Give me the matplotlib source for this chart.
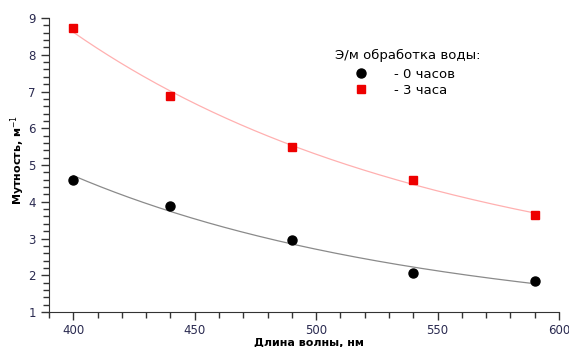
import numpy as np
import matplotlib.pyplot as plt
from matplotlib.ticker import MultipleLocator

# data
wavelength = [400, 440, 490, 540, 590]
turb_0h = [4.58, 3.88, 2.96, 2.05, 1.83]
turb_3h = [8.72, 6.88, 5.49, 4.59, 3.65]
labels = ['- 0 часов', '- 3 часа']
legend_title = 'Э/м обработка воды:'

plt.rcParams['font.family'] = ['DejaVu Sans']

fig = plt.figure(figsize=(5.69, 3.47), dpi=100)
ax = fig.add_axes([0.0861, 0.1009, 0.8963, 0.8471])

# smooth trend lines (exponential fit to each series)
xs = np.linspace(wavelength[0], wavelength[-1], 200)
x = np.array(wavelength, dtype=float)
for ys, col in [(turb_0h, '#8a8a8a'), (turb_3h, '#ffb0b0')]:
    p = np.polyfit(x, np.log(ys), 2)
    ax.plot(xs, np.exp(np.polyval(p, xs)), color=col, lw=0.9, zorder=1)

h0, = ax.plot(wavelength, turb_0h, 'o', color='black', ms=6.5, label=labels[0], zorder=3)
h3, = ax.plot(wavelength, turb_3h, 's', color='#ee0000', ms=6.2, label=labels[1], zorder=3)

ax.set_xlim(390, 600)
ax.set_ylim(1, 9)
ax.xaxis.set_major_locator(MultipleLocator(50))
ax.xaxis.set_minor_locator(MultipleLocator(10))
ax.yaxis.set_major_locator(MultipleLocator(1))
ax.yaxis.set_minor_locator(MultipleLocator(0.2))
ax.tick_params(which='major', length=6, width=1, labelsize=8.5, colors='#333333', labelcolor='#2a2a50')
ax.tick_params(axis='x', which='major', pad=3)
ax.tick_params(which='minor', length=4, width=1, colors='#333333')
for s in ['top', 'right']:
    ax.spines[s].set_visible(False)
for s in ['left', 'bottom']:
    ax.spines[s].set_color('#333333')

ax.set_xlabel('Длина волны, нм', fontsize=8, fontweight='bold', va='center')
ax.xaxis.set_label_coords(0.51, -0.107)
ax.set_ylabel('Мутность, м$^{-1}$', fontsize=8, fontweight='bold', va='center')
ax.yaxis.set_label_coords(-0.061, 0.517)

leg = ax.legend(handles=[h0, h3], title=legend_title, frameon=False, fontsize=9.5,
                title_fontsize=9.5, loc='upper left', bbox_to_anchor=(0.561, 0.895),
                handlelength=4.0, handletextpad=0.5, labelspacing=0.25,
                alignment='left', borderpad=0, borderaxespad=0)
leg._legend_box.sep = 4

fig.savefig('out.png', dpi=100)
